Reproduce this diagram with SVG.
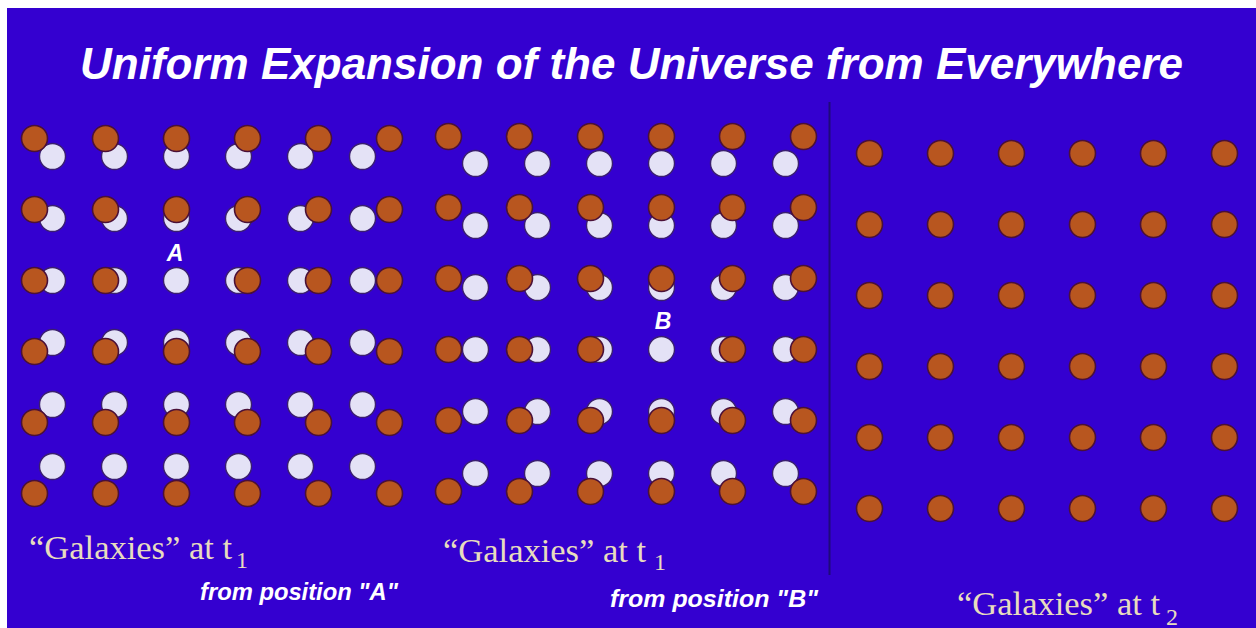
<svg xmlns="http://www.w3.org/2000/svg" xmlns:xlink="http://www.w3.org/1999/xlink" width="1256" height="628" viewBox="0 0 1256 628">
<style>
.o{fill:#b8561f;stroke:#4a1038;stroke-width:1.6}
.w{fill:#e4e2f6;stroke:#3a1e70;stroke-width:1.4}
.title{font-family:"Liberation Sans",Arial,sans-serif;font-weight:bold;font-style:italic;font-size:45px;fill:#ffffff}
.lbl{font-family:"Liberation Serif","Times New Roman",serif;font-size:34.5px;fill:#e8dcbe}
.sub{font-family:"Liberation Serif","Times New Roman",serif;font-size:24px;fill:#e8dcbe}
.pos{font-family:"Liberation Sans",Arial,sans-serif;font-weight:bold;font-style:italic;font-size:24px;fill:#ffffff}
.pt{font-family:"Liberation Sans",Arial,sans-serif;font-weight:bold;font-style:italic;font-size:23px;fill:#ffffff}
</style>
<defs>
<circle id="og" class="o" r="13"/>
<circle id="wg" class="w" r="13"/>
</defs>
<rect x="0" y="0" width="1256" height="628" fill="#ffffff"/>
<rect x="7" y="8" width="1249" height="620" fill="#3400d0"/>
<text class="title" x="80" y="79" textLength="1103" lengthAdjust="spacingAndGlyphs">Uniform Expansion of the Universe from Everywhere</text>

<g id="connectors">
<line x1="829.5" y1="102" x2="829.5" y2="575" stroke="#1e0a7a" stroke-width="2"/>
</g>

<g id="panel-A">
<g id="A-white">
<use href="#wg" x="52.5" y="156.5"/><use href="#wg" x="114.5" y="156.5"/><use href="#wg" x="176.5" y="156.5"/><use href="#wg" x="238.5" y="156.5"/><use href="#wg" x="300.5" y="156.5"/><use href="#wg" x="362.5" y="156.5"/>
<use href="#wg" x="52.5" y="218.5"/><use href="#wg" x="114.5" y="218.5"/><use href="#wg" x="176.5" y="218.5"/><use href="#wg" x="238.5" y="218.5"/><use href="#wg" x="300.5" y="218.5"/><use href="#wg" x="362.5" y="218.5"/>
<use href="#wg" x="52.5" y="280.5"/><use href="#wg" x="114.5" y="280.5"/><use href="#wg" x="238.5" y="280.5"/><use href="#wg" x="300.5" y="280.5"/><use href="#wg" x="362.5" y="280.5"/>
<use href="#wg" x="52.5" y="342.5"/><use href="#wg" x="114.5" y="342.5"/><use href="#wg" x="176.5" y="342.5"/><use href="#wg" x="238.5" y="342.5"/><use href="#wg" x="300.5" y="342.5"/><use href="#wg" x="362.5" y="342.5"/>
<use href="#wg" x="52.5" y="404.5"/><use href="#wg" x="114.5" y="404.5"/><use href="#wg" x="176.5" y="404.5"/><use href="#wg" x="238.5" y="404.5"/><use href="#wg" x="300.5" y="404.5"/><use href="#wg" x="362.5" y="404.5"/>
<use href="#wg" x="52.5" y="466.5"/><use href="#wg" x="114.5" y="466.5"/><use href="#wg" x="176.5" y="466.5"/><use href="#wg" x="238.5" y="466.5"/><use href="#wg" x="300.5" y="466.5"/><use href="#wg" x="362.5" y="466.5"/>
</g>
<g id="A-orange">
<use href="#og" x="34.5" y="138.5"/><use href="#og" x="105.5" y="138.5"/><use href="#og" x="176.5" y="138.5"/><use href="#og" x="247.5" y="138.5"/><use href="#og" x="318.5" y="138.5"/><use href="#og" x="389.5" y="138.5"/>
<use href="#og" x="34.5" y="209.5"/><use href="#og" x="105.5" y="209.5"/><use href="#og" x="176.5" y="209.5"/><use href="#og" x="247.5" y="209.5"/><use href="#og" x="318.5" y="209.5"/><use href="#og" x="389.5" y="209.5"/>
<use href="#og" x="34.5" y="280.5"/><use href="#og" x="105.5" y="280.5"/><use href="#og" x="247.5" y="280.5"/><use href="#og" x="318.5" y="280.5"/><use href="#og" x="389.5" y="280.5"/>
<use href="#og" x="34.5" y="351.5"/><use href="#og" x="105.5" y="351.5"/><use href="#og" x="176.5" y="351.5"/><use href="#og" x="247.5" y="351.5"/><use href="#og" x="318.5" y="351.5"/><use href="#og" x="389.5" y="351.5"/>
<use href="#og" x="34.5" y="422.5"/><use href="#og" x="105.5" y="422.5"/><use href="#og" x="176.5" y="422.5"/><use href="#og" x="247.5" y="422.5"/><use href="#og" x="318.5" y="422.5"/><use href="#og" x="389.5" y="422.5"/>
<use href="#og" x="34.5" y="493.5"/><use href="#og" x="105.5" y="493.5"/><use href="#og" x="176.5" y="493.5"/><use href="#og" x="247.5" y="493.5"/><use href="#og" x="318.5" y="493.5"/><use href="#og" x="389.5" y="493.5"/>
</g>
<use href="#wg" x="176.5" y="280.5"/>
<text class="pt" x="175" y="261" text-anchor="middle">A</text>
<text class="lbl" x="29" y="559">“Galaxies” at t</text>
<text class="sub" x="236" y="568">1</text>
<text class="pos" x="200" y="600" textLength="198" lengthAdjust="spacingAndGlyphs">from position "A"</text>
</g>

<g id="panel-B">
<g id="B-white">
<use href="#wg" x="475.5" y="163.5"/><use href="#wg" x="537.5" y="163.5"/><use href="#wg" x="599.5" y="163.5"/><use href="#wg" x="661.5" y="163.5"/><use href="#wg" x="723.5" y="163.5"/><use href="#wg" x="785.5" y="163.5"/>
<use href="#wg" x="475.5" y="225.5"/><use href="#wg" x="537.5" y="225.5"/><use href="#wg" x="599.5" y="225.5"/><use href="#wg" x="661.5" y="225.5"/><use href="#wg" x="723.5" y="225.5"/><use href="#wg" x="785.5" y="225.5"/>
<use href="#wg" x="475.5" y="287.5"/><use href="#wg" x="537.5" y="287.5"/><use href="#wg" x="599.5" y="287.5"/><use href="#wg" x="661.5" y="287.5"/><use href="#wg" x="723.5" y="287.5"/><use href="#wg" x="785.5" y="287.5"/>
<use href="#wg" x="475.5" y="349.5"/><use href="#wg" x="537.5" y="349.5"/><use href="#wg" x="599.5" y="349.5"/><use href="#wg" x="723.5" y="349.5"/><use href="#wg" x="785.5" y="349.5"/>
<use href="#wg" x="475.5" y="411.5"/><use href="#wg" x="537.5" y="411.5"/><use href="#wg" x="599.5" y="411.5"/><use href="#wg" x="661.5" y="411.5"/><use href="#wg" x="723.5" y="411.5"/><use href="#wg" x="785.5" y="411.5"/>
<use href="#wg" x="475.5" y="473.5"/><use href="#wg" x="537.5" y="473.5"/><use href="#wg" x="599.5" y="473.5"/><use href="#wg" x="661.5" y="473.5"/><use href="#wg" x="723.5" y="473.5"/><use href="#wg" x="785.5" y="473.5"/>
</g>
<g id="B-orange">
<use href="#og" x="448.5" y="136.5"/><use href="#og" x="519.5" y="136.5"/><use href="#og" x="590.5" y="136.5"/><use href="#og" x="661.5" y="136.5"/><use href="#og" x="732.5" y="136.5"/><use href="#og" x="803.5" y="136.5"/>
<use href="#og" x="448.5" y="207.5"/><use href="#og" x="519.5" y="207.5"/><use href="#og" x="590.5" y="207.5"/><use href="#og" x="661.5" y="207.5"/><use href="#og" x="732.5" y="207.5"/><use href="#og" x="803.5" y="207.5"/>
<use href="#og" x="448.5" y="278.5"/><use href="#og" x="519.5" y="278.5"/><use href="#og" x="590.5" y="278.5"/><use href="#og" x="661.5" y="278.5"/><use href="#og" x="732.5" y="278.5"/><use href="#og" x="803.5" y="278.5"/>
<use href="#og" x="448.5" y="349.5"/><use href="#og" x="519.5" y="349.5"/><use href="#og" x="590.5" y="349.5"/><use href="#og" x="732.5" y="349.5"/><use href="#og" x="803.5" y="349.5"/>
<use href="#og" x="448.5" y="420.5"/><use href="#og" x="519.5" y="420.5"/><use href="#og" x="590.5" y="420.5"/><use href="#og" x="661.5" y="420.5"/><use href="#og" x="732.5" y="420.5"/><use href="#og" x="803.5" y="420.5"/>
<use href="#og" x="448.5" y="491.5"/><use href="#og" x="519.5" y="491.5"/><use href="#og" x="590.5" y="491.5"/><use href="#og" x="661.5" y="491.5"/><use href="#og" x="732.5" y="491.5"/><use href="#og" x="803.5" y="491.5"/>
</g>
<use href="#wg" x="661.5" y="349.5"/>
<text class="pt" x="663" y="329" text-anchor="middle" font-size="24">B</text>
<text class="lbl" x="443" y="561.5">“Galaxies” at t</text>
<text class="sub" x="654" y="570">1</text>
<text class="pos" x="610" y="607" textLength="208" lengthAdjust="spacingAndGlyphs">from position "B"</text>
</g>

<g id="panel-t2">
<g id="t2-orange">
<use href="#og" x="869.5" y="153.5"/><use href="#og" x="940.5" y="153.5"/><use href="#og" x="1011.5" y="153.5"/><use href="#og" x="1082.5" y="153.5"/><use href="#og" x="1153.5" y="153.5"/><use href="#og" x="1224.5" y="153.5"/>
<use href="#og" x="869.5" y="224.5"/><use href="#og" x="940.5" y="224.5"/><use href="#og" x="1011.5" y="224.5"/><use href="#og" x="1082.5" y="224.5"/><use href="#og" x="1153.5" y="224.5"/><use href="#og" x="1224.5" y="224.5"/>
<use href="#og" x="869.5" y="295.5"/><use href="#og" x="940.5" y="295.5"/><use href="#og" x="1011.5" y="295.5"/><use href="#og" x="1082.5" y="295.5"/><use href="#og" x="1153.5" y="295.5"/><use href="#og" x="1224.5" y="295.5"/>
<use href="#og" x="869.5" y="366.5"/><use href="#og" x="940.5" y="366.5"/><use href="#og" x="1011.5" y="366.5"/><use href="#og" x="1082.5" y="366.5"/><use href="#og" x="1153.5" y="366.5"/><use href="#og" x="1224.5" y="366.5"/>
<use href="#og" x="869.5" y="437.5"/><use href="#og" x="940.5" y="437.5"/><use href="#og" x="1011.5" y="437.5"/><use href="#og" x="1082.5" y="437.5"/><use href="#og" x="1153.5" y="437.5"/><use href="#og" x="1224.5" y="437.5"/>
<use href="#og" x="869.5" y="508.5"/><use href="#og" x="940.5" y="508.5"/><use href="#og" x="1011.5" y="508.5"/><use href="#og" x="1082.5" y="508.5"/><use href="#og" x="1153.5" y="508.5"/><use href="#og" x="1224.5" y="508.5"/>
</g>
<text class="lbl" x="957" y="615">“Galaxies” at t</text>
<text class="sub" x="1166" y="625">2</text>
</g>
</svg>
